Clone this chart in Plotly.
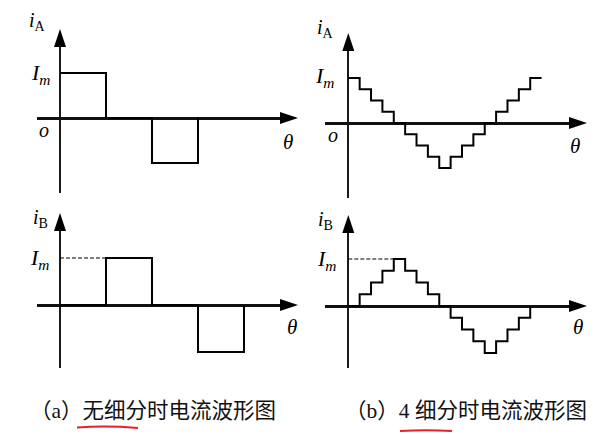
import plotly.graph_objects as go

# page body has an 8px default margin: draw the figure 8px smaller and shift all pixel positions
OFF = 8
W, H = 616 - OFF, 434 - OFF

# ---------------- data ----------------
# positions are in micro-steps (4 micro-steps = one full step), currents in units of Im
# (a) no subdivision: breakpoints and levels (held until next breakpoint)
a_pos_A = [0, 4, 8, 12]
a_iA = [1, 0, -1, 0]
a_pos_B = [0, 4, 8, 12, 16]
a_iB = [0, 1, 0, -1, 0]
# (b) 4 subdivisions: level held over each micro-step
b_pos_A = list(range(18))
b_iA = [1, 0.75, 0.5, 0.25, 0, -0.25, -0.5, -0.75, -1, -0.75, -0.5, -0.25, 0, 0.25, 0.5, 0.75, 1, 1]
b_pos_B = list(range(17))
b_iB = [0, 0.25, 0.5, 0.75, 1, 0.75, 0.5, 0.25, 0, -0.25, -0.5, -0.75, -1, -0.75, -0.5, -0.25, 0]
# dashed guide to Im in the iB plots
a_guide_x = [0, 4]
b_guide_x = [0, 4]
guide_y = [1, 1]

captions = ["（a）无细分时电流波形图", "（b）4 细分时电流波形图"]
ylab_top = "<i>i</i><sub>A</sub>"
ylab_bot = "<i>i</i><sub>B</sub>"
im_lab = "<i>I</i><sub><i>m</i></sub>"
theta_lab = "<i>θ</i>"
origin_lab = "<i>o</i>"

# ---------------- panel geometry (pixels in the 616x434 window) ----------------
panels = [
    dict(ox=60, oy=118, sx=11.5, sy=45, xl=37, xr=298, yb=193, yt=29),
    dict(ox=60, oy=305, sx=11.5, sy=47, xl=37, xr=298, yb=368, yt=213),
    dict(ox=348.3, oy=123, sx=11.37, sy=45, xl=325, xr=587, yb=198, yt=33),
    dict(ox=348.3, oy=306, sx=11.37, sy=47, xl=325, xr=587, yb=368, yt=215),
]
TIP = 8  # arrow tip beyond the axis end


def px(v):
    return (v - OFF) / W


def py(v):
    return 1 - (v - OFF) / H


fig = go.Figure()
SERIF = "Liberation Serif, Times New Roman, serif"
layout_axes = {}
shapes = []
annotations = []

for i, p in enumerate(panels):
    n = "" if i == 0 else str(i + 1)
    xend = p["xr"] - TIP
    ytop = p["yt"] + TIP
    xr0 = (p["xl"] - p["ox"]) / p["sx"]
    xr1 = (xend - p["ox"]) / p["sx"]
    yr0 = (p["oy"] - p["yb"]) / p["sy"]
    yr1 = (p["oy"] - ytop) / p["sy"]
    layout_axes["xaxis" + n] = dict(
        domain=[px(p["xl"]), px(xend)], range=[xr0, xr1], anchor="y" + n,
        showgrid=False, showticklabels=False, ticks="", showline=False,
        zeroline=True, zerolinecolor="#1a1a1a", zerolinewidth=1.8, fixedrange=True)
    layout_axes["yaxis" + n] = dict(
        domain=[py(p["yb"]), py(ytop)], range=[yr0, yr1], anchor="x" + n,
        showgrid=False, showticklabels=False, ticks="", showline=False,
        zeroline=True, zerolinecolor="#111111", zerolinewidth=2.5, fixedrange=True)
    # arrow heads at the axis ends (paper-referenced so they are not clipped)
    shapes.append(dict(type="path", xref="paper", yref="paper", xsizemode="pixel",
                       ysizemode="pixel", xanchor=px(xend), yanchor=py(p["oy"]),
                       path="M 8 0 L -10 6 L -10 -6 Z", fillcolor="black", line_width=0))
    shapes.append(dict(type="path", xref="paper", yref="paper", xsizemode="pixel",
                       ysizemode="pixel", xanchor=px(p["ox"]), yanchor=py(ytop),
                       path="M 0 8 L -6 -10 L 6 -10 Z", fillcolor="black", line_width=0))

line_style = dict(color="black", width=2)
fig.add_trace(go.Scatter(x=a_pos_A, y=a_iA, mode="lines", line=dict(shape="hv", **line_style),
                         xaxis="x", yaxis="y", showlegend=False, hoverinfo="skip"))
fig.add_trace(go.Scatter(x=a_pos_B, y=a_iB, mode="lines", line=dict(shape="hv", **line_style),
                         xaxis="x2", yaxis="y2", showlegend=False, hoverinfo="skip"))
fig.add_trace(go.Scatter(x=b_pos_A, y=b_iA, mode="lines", line=dict(shape="hv", **line_style),
                         xaxis="x3", yaxis="y3", showlegend=False, hoverinfo="skip"))
fig.add_trace(go.Scatter(x=b_pos_B, y=b_iB, mode="lines", line=dict(shape="hv", **line_style),
                         xaxis="x4", yaxis="y4", showlegend=False, hoverinfo="skip"))
fig.add_trace(go.Scatter(x=a_guide_x, y=guide_y, mode="lines",
                         line=dict(color="black", width=1.2, dash="4px,2px"),
                         xaxis="x2", yaxis="y2", showlegend=False, hoverinfo="skip"))
fig.add_trace(go.Scatter(x=b_guide_x, y=guide_y, mode="lines",
                         line=dict(color="black", width=1.2, dash="4px,2px"),
                         xaxis="x4", yaxis="y4", showlegend=False, hoverinfo="skip"))

# text labels, offsets in pixels from each panel's origin
labels = [
    # panel, text, dx, dy(up), size
    (0, ylab_top, -23, 97, 20), (0, im_lab, -20, 44, 22), (0, origin_lab, -16, -12, 20), (0, theta_lab, 228, -24, 21),
    (1, ylab_bot, -20, 87, 20), (1, im_lab, -21, 46, 22), (1, theta_lab, 232, -22, 21),
    (2, ylab_top, -23, 95, 20), (2, im_lab, -24, 46, 22), (2, origin_lab, -15, -12, 20), (2, theta_lab, 227, -23, 21),
    (3, ylab_bot, -23, 86, 20), (3, im_lab, -22, 46, 22), (3, theta_lab, 230, -21, 21),
]
for pi, txt, dx, dy, sz in labels:
    n = "" if pi == 0 else str(pi + 1)
    annotations.append(dict(xref="x" + n, yref="y" + n, x=0, y=0, text=txt, showarrow=False,
                            xanchor="center", yanchor="middle", xshift=dx, yshift=dy,
                            font=dict(family=SERIF, size=sz, color="black")))

cap_font = dict(family="Liberation Serif, Noto Sans CJK SC", size=21.5, color="#111")
annotations.append(dict(xref="paper", yref="paper", x=px(153), y=py(411), text=captions[0],
                        showarrow=False, xanchor="center", yanchor="middle", font=cap_font))
annotations.append(dict(xref="paper", yref="paper", x=px(466), y=py(411), text=captions[1],
                        showarrow=False, xanchor="center", yanchor="middle", font=cap_font))

# red hand-drawn underlines
shapes.append(dict(type="path", xref="paper", yref="paper",
                   path=f"M {px(77)} {py(427.5)} Q {px(107)} {py(425.5)} {px(138)} {py(428)}",
                   line=dict(color="#e8202a", width=2)))
shapes.append(dict(type="path", xref="paper", yref="paper",
                   path=f"M {px(400)} {py(431)} Q {px(426)} {py(429.5)} {px(452)} {py(431)}",
                   line=dict(color="#e8202a", width=2)))

fig.update_layout(width=W, height=H, margin=dict(l=0, r=0, t=0, b=0),
                  paper_bgcolor="white", plot_bgcolor="rgba(0,0,0,0)",
                  shapes=shapes, annotations=annotations, **layout_axes)
fig.write_html("out.html", config={"displayModeBar": False})
